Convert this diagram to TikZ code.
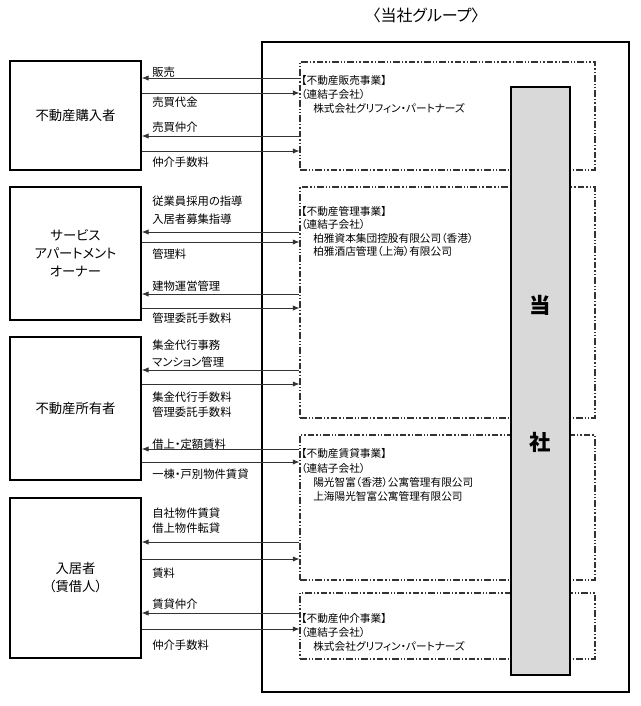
\documentclass[tikz,border=0pt]{standalone}
\usepackage{fontspec}
\setmainfont{Noto Sans CJK JP}[RawFeature=+palt]
\usetikzlibrary{arrows.meta}

\begin{document}
\begin{tikzpicture}[x=0.75pt,y=-0.75pt,
  party/.style={draw,line width=1.3pt,minimum width=98.25pt,inner sep=0pt,align=center,font=\fontsize{10}{13.5}\selectfont},
  biz/.style={draw=black!80,line width=0.8pt,dash pattern=on 5pt off 1.5pt on 1pt off 1.5pt on 1pt off 1.5pt,minimum width=221.25pt,inner sep=0pt},
  lbl/.style={anchor=west,inner sep=0pt,font=\fontsize{8.5}{10}\selectfont},
  txt/.style={anchor=west,inner sep=0pt,font=\fontsize{8}{9}\selectfont},
  flow/.style={black!80,line width=0.6pt},
  >={Latex[length=5pt,width=4pt]}]
\useasboundingbox (0,0) rectangle (640,706);

\node[inner sep=0pt,font=\fontsize{12}{14}\selectfont] (title) at (426,15) {〈当社グループ〉};
\node[draw,line width=1.8pt,minimum width=275.25pt,minimum height=487.5pt] (group) at (445.5,367) {};

\draw[color=black]
  node[party,minimum height=81.75pt] (buyer) at (75.5,115.5) {不動産購入者}
  node[party,minimum height=99.75pt] (owner) at (75.5,253.5) {サービス\\アパートメント\\オーナー}
  node[party,minimum height=107.25pt] (holder) at (75.5,408.5) {不動産所有者}
  node[party,minimum height=120pt] (tenant) at (75.5,578) {入居者\\（賃借人）};

\draw
  node[biz,minimum height=81pt] (sales) at (447.5,116) {}
  node[biz,minimum height=173.25pt] (mgmt) at (447.5,302.5) {}
  node[biz,minimum height=108.75pt] (rental) at (447.5,507.5) {}
  node[biz,minimum height=49.5pt] (broker) at (447.5,626) {};

\draw[flow,<-] (buyer.east |- 0,78) -- (sales.west |- 0,78);
\draw[flow,->] (buyer.east |- 0,93) -- (sales.west |- 0,93);
\draw[flow,<-] (buyer.east |- 0,136) -- (sales.west |- 0,136);
\draw[flow,->] (buyer.east |- 0,151) -- (sales.west |- 0,151);
\draw[flow,<-] (owner.east |- 0,232) -- (mgmt.west |- 0,232);
\draw[flow,->] (owner.east |- 0,242) -- (mgmt.west |- 0,242);
\draw[flow,<-] (owner.east |- 0,294) -- (mgmt.west |- 0,294);
\draw[flow,->] (owner.east |- 0,308) -- (mgmt.west |- 0,308);
\draw[flow,<-] (holder.east |- 0,370) -- (mgmt.west |- 0,370);
\draw[flow,->] (holder.east |- 0,384) -- (mgmt.west |- 0,384);
\draw[flow,<-] (holder.east |- 0,449) -- (rental.west |- 0,449);
\draw[flow,->] (holder.east |- 0,462) -- (rental.west |- 0,462);
\draw[flow,<-] (tenant.east |- 0,542) -- (rental.west |- 0,542);
\draw[flow,->] (tenant.east |- 0,559) -- (rental.west |- 0,559);
\draw[flow,<-] (tenant.east |- 0,613) -- (broker.west |- 0,613);
\draw[flow,->] (tenant.east |- 0,629) -- (broker.west |- 0,629);

\node[draw,fill=black!15,line width=1.8pt,minimum width=44.25pt,minimum height=441pt] (corp) at (540.5,381) {};
\node[font=\fontsize{16}{18}\selectfont\bfseries] (corpa) at (540.5,305) {当};
\node[font=\fontsize{16}{18}\selectfont\bfseries] (corpb) at (540.5,442) {社};

\node[lbl] (lsell) at (152,72) {販売};
\node[lbl] (lprice) at (152,102) {売買代金};
\node[lbl] (lagent) at (152,127) {売買仲介};
\node[lbl] (lfeea) at (152,162) {仲介手数料};
\node[lbl] (lstaff) at (152,201) {従業員採用の指導};
\node[lbl] (lrecruit) at (152,219) {入居者募集指導};
\node[lbl] (lmfee) at (152,254) {管理料};
\node[lbl] (lbuild) at (152,286) {建物運営管理};
\node[lbl] (lcomma) at (152,318) {管理委託手数料};
\node[lbl] (lcollect) at (152,345) {集金代行事務};
\node[lbl] (lcondo) at (152,362) {マンション管理};
\node[lbl] (lcfee) at (152,397) {集金代行手数料};
\node[lbl] (lcommb) at (152,412) {管理委託手数料};
\node[lbl] (lsub) at (152,444) {借上・定額賃料};
\node[lbl] (llease) at (152,474) {一棟・戸別物件賃貸};
\node[lbl] (lown) at (152,513) {自社物件賃貸};
\node[lbl] (lsublet) at (152,528) {借上物件転貸};
\node[lbl] (lrent) at (152,573) {賃料};
\node[lbl] (lragent) at (152,604) {賃貸仲介};
\node[lbl] (lfeeb) at (152,645) {仲介手数料};

\node[txt] (salesh) at (301,80) {【不動産販売事業】};
\node[txt] (salesc) at (301,94) {（連結子会社）};
\node[txt] (salesn) at (313,108) {株式会社グリフィン・パートナーズ};
\node[txt] (mgmth) at (301,211) {【不動産管理事業】};
\node[txt] (mgmtc) at (301,224) {（連結子会社）};
\node[txt] (mgmtn) at (313,238) {柏雅資本集団控股有限公司（香港）};
\node[txt] (mgmtm) at (313,251) {柏雅酒店管理（上海）有限公司};
\node[txt] (rentalh) at (301,453) {【不動産賃貸事業】};
\node[txt] (rentalc) at (301,468) {（連結子会社）};
\node[txt] (rentaln) at (313,482) {陽光智富（香港）公寓管理有限公司};
\node[txt] (rentalm) at (313,496) {上海陽光智富公寓管理有限公司};
\node[txt] (brokerh) at (301,618) {【不動産仲介事業】};
\node[txt] (brokerc) at (301,632) {（連結子会社）};
\node[txt] (brokern) at (313,646) {株式会社グリフィン・パートナーズ};
\end{tikzpicture}
\end{document}
